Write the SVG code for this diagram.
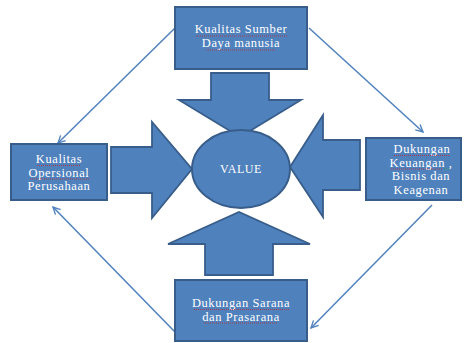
<svg xmlns="http://www.w3.org/2000/svg" width="467" height="343" viewBox="0 0 467 343">
  <defs>
    <style>
      .box { fill: #4F81BD; stroke: #385D8A; stroke-width: 2; }
      .big { fill: #4F81BD; stroke: #385D8A; stroke-width: 1.8; stroke-linejoin: miter; }
      .lbl { fill: #FFFFFF; font-family: 'Liberation Serif', 'DejaVu Serif', serif; font-size: 12.5px; text-anchor: middle; letter-spacing: 0.6px; }
      .link { fill: none; stroke: #4F81BD; stroke-width: 1.5; }
      .spell { fill: none; stroke: #D02020; stroke-width: 0.7; stroke-dasharray: 1 1; }
    </style>
    <marker id="open" viewBox="0 0 10 10" refX="9" refY="5" markerWidth="9" markerHeight="9" orient="auto" markerUnits="userSpaceOnUse">
      <path d="M1,1 L9,5 L1,9" fill="none" stroke="#4F81BD" stroke-width="1.5"/>
    </marker>
  </defs>

  <rect width="467" height="343" fill="#FFFFFF"/>

  <!-- cycle connectors between the outer boxes -->
  <g id="connectors">
    <line class="link" x1="175" y1="28" x2="58" y2="143" marker-end="url(#open)"/>
    <line class="link" x1="309" y1="28" x2="423" y2="132" marker-end="url(#open)"/>
    <line class="link" x1="432" y1="205" x2="311" y2="328" marker-end="url(#open)"/>
    <line class="link" x1="175" y1="332" x2="53" y2="207" marker-end="url(#open)"/>
  </g>

  <!-- block arrows pointing at the centre -->
  <g id="arrow-down">
    <polygon class="big" points="211,73 269,73 269,100 301,100 240,137 179,100 211,100"/>
  </g>
  <g id="arrow-up">
    <polygon class="big" points="205,275 273,275 273,244 310,244 239,212 168,244 205,244"/>
  </g>
  <g id="arrow-right">
    <polygon class="big" points="111,147 152,147 152,122 192,169 152,218 152,193 111,193"/>
  </g>
  <g id="arrow-left">
    <polygon class="big" points="360,140 323,140 323,115 290,167 323,217 323,190 360,190"/>
  </g>

  <g font-family="Liberation Serif, DejaVu Serif, serif">
    <g id="value">
      <ellipse class="box" cx="241" cy="169" rx="49" ry="39"/>
      <text class="lbl" x="241" y="173" style="font-size:12px">VALUE</text>
    </g>

    <g id="node-sdm">
      <rect class="box" x="175" y="7" width="132" height="62"/>
      <text class="lbl" x="241" y="33">Kualitas Sumber</text>
      <text class="lbl" x="241" y="47">Daya manusia</text>
      <path class="spell" d="M196,36 H287 M206,50 H276"/>
    </g>

    <g id="node-operasional">
      <rect class="box" x="11" y="144" width="96" height="56"/>
      <text class="lbl" x="59" y="163">Kualitas</text>
      <text class="lbl" x="59" y="176.5">Opersional</text>
      <text class="lbl" x="59" y="190">Perusahaan</text>
      <path class="spell" d="M37,165.5 H81 M30,179 H89"/>
    </g>

    <g id="node-keuangan">
      <rect class="box" x="366" y="138" width="95" height="62"/>
      <text class="lbl" x="422" y="153">Dukungan</text>
      <text class="lbl" x="421" y="166.5">Keuangan ,</text>
      <text class="lbl" x="421" y="180">Bisnis dan</text>
      <text class="lbl" x="421" y="193.5">Keagenan</text>
      <path class="spell" d="M394,155.5 H450 M391,169 H443"/>
      <path d="M444,169 H450" fill="none" stroke="#30A030" stroke-width="0.7" stroke-dasharray="1 1"/>
    </g>

    <g id="node-sarana">
      <rect class="box" x="175" y="280" width="132" height="61"/>
      <text class="lbl" x="241" y="307">Dukungan Sarana</text>
      <text class="lbl" x="241" y="320.5">dan Prasarana</text>
      <path class="spell" d="M194,309.5 H289 M204,323 H278"/>
    </g>
  </g>
</svg>
